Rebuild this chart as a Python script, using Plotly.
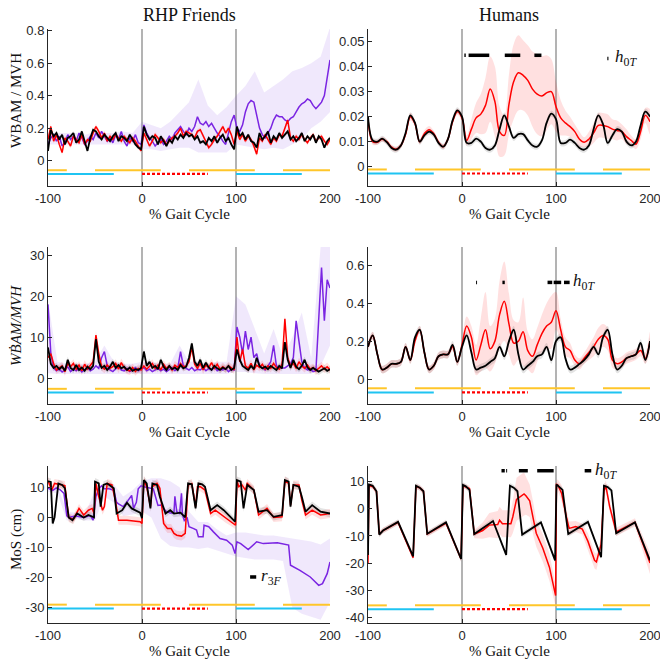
import plotly.graph_objects as go

# ======================= DATA =======================
x_left = list(range(-100, 201, 3))     # RHP Friends sampling (% gait cycle)
x_right = list(range(-100, 201, 5))    # Humans sampling (% gait cycle)
x_band10 = list(range(-100, 201, 10))  # coarse grid for purple envelopes

# ---- Row 1: WBAM / MVH, RHP Friends ----
wbam_rhp_black = [
    0.06, 0.19, 0.15, 0.17, 0.13, 0.16, 0.10, 0.14, 0.15, 0.17,
    0.11, 0.13, 0.18, 0.12, 0.06, 0.14, 0.19, 0.18, 0.15, 0.13,
    0.16, 0.14, 0.12, 0.15, 0.17, 0.12, 0.15, 0.14, 0.12, 0.16,
    0.13, 0.10, 0.08, 0.07, 0.21, 0.16, 0.13, 0.15, 0.14, 0.10,
    0.15, 0.12, 0.09, 0.13, 0.11, 0.15, 0.13, 0.16, 0.14, 0.17,
    0.15, 0.16, 0.13, 0.15, 0.11, 0.12, 0.10, 0.14, 0.12, 0.15,
    0.11, 0.14, 0.16, 0.12, 0.14, 0.10, 0.07, 0.21, 0.15, 0.17,
    0.13, 0.16, 0.12, 0.11, 0.08, 0.17, 0.13, 0.15, 0.18, 0.11,
    0.15, 0.13, 0.17, 0.14, 0.16, 0.18, 0.13, 0.15, 0.12, 0.14,
    0.17, 0.12, 0.15, 0.13, 0.16, 0.11, 0.15, 0.13, 0.08, 0.12,
    0.14]
wbam_rhp_red = [
    0.13, 0.21, 0.12, 0.16, 0.10, 0.05, 0.14, 0.12, 0.09, 0.15,
    0.13, 0.11, 0.16, 0.10, 0.13, 0.12, 0.17, 0.21, 0.18, 0.14,
    0.17, 0.12, 0.15, 0.13, 0.16, 0.14, 0.12, 0.15, 0.13, 0.11,
    0.14, 0.12, 0.09, 0.06, 0.17, 0.13, 0.09, 0.12, 0.16, 0.14,
    0.11, 0.13, 0.10, 0.12, 0.14, 0.15, 0.17, 0.20, 0.15, 0.18,
    0.17, 0.16, 0.14, 0.18, 0.19, 0.15, 0.12, 0.08, 0.10, 0.13,
    0.15, 0.18, 0.21, 0.17, 0.20, 0.16, 0.10, 0.18, 0.13, 0.16,
    0.12, 0.15, 0.13, 0.09, 0.04, 0.14, 0.12, 0.16, 0.13, 0.10,
    0.14, 0.12, 0.16, 0.15, 0.20, 0.25, 0.14, 0.12, 0.15, 0.13,
    0.16, 0.13, 0.11, 0.14, 0.16, 0.12, 0.14, 0.15, 0.12, 0.10,
    0.13]
wbam_rhp_purple = [
    0.10, 0.14, 0.16, 0.12, 0.15, 0.09, 0.11, 0.16, 0.13, 0.15,
    0.12, 0.17, 0.14, 0.10, 0.12, 0.15, 0.13, 0.17, 0.14, 0.18,
    0.15, 0.12, 0.14, 0.11, 0.16, 0.13, 0.18, 0.12, 0.09, 0.14,
    0.12, 0.16, 0.11, 0.10, 0.22, 0.17, 0.14, 0.12, 0.09, 0.11,
    0.13, 0.10, 0.12, 0.15, 0.13, 0.17, 0.19, 0.21, 0.18, 0.16,
    0.20, 0.18, 0.21, 0.27, 0.23, 0.22, 0.24, 0.21, 0.23, 0.20,
    0.17, 0.15, 0.12, 0.10, 0.18, 0.24, 0.28, 0.20, 0.18, 0.22,
    0.30, 0.35, 0.37, 0.36, 0.28, 0.20, 0.16, 0.14, 0.17, 0.20,
    0.25, 0.28, 0.27, 0.27, 0.25, 0.24, 0.26, 0.27, 0.30, 0.33,
    0.35, 0.36, 0.38, 0.37, 0.34, 0.32, 0.34, 0.36, 0.40, 0.50,
    0.62]
wbam_rhp_purple_hi = [0.16, 0.17, 0.17, 0.17, 0.16, 0.18, 0.17, 0.17, 0.18, 0.17,
                      0.24, 0.22, 0.20, 0.24, 0.30, 0.36, 0.50, 0.34, 0.28, 0.33,
                      0.40, 0.46, 0.55, 0.42, 0.46, 0.50, 0.55, 0.57, 0.60, 0.64, 0.82]
wbam_rhp_purple_lo = [0.10, 0.10, 0.10, 0.10, 0.10, 0.10, 0.10, 0.10, 0.10, 0.10,
                      0.07, 0.07, 0.06, 0.07, 0.08, 0.08, 0.05, 0.05, 0.05, 0.05,
                      0.10, 0.09, 0.08, 0.07, 0.08, 0.07, 0.10, 0.13, 0.20, 0.24, 0.30]
wbam_rhp_black_sd = 0.012
wbam_rhp_red_sd = 0.015

# ---- Row 1: WBAM / MVH, Humans ----
wbam_hum_black = [
    0.0200, 0.0105, 0.0100, 0.0112, 0.0098, 0.0075, 0.0068, 0.0085, 0.0135, 0.0205,
    0.0175, 0.0100, 0.0125, 0.0140, 0.0128, 0.0095, 0.0080, 0.0110, 0.0185, 0.0225,
    0.0200, 0.0095, 0.0095, 0.0112, 0.0100, 0.0075, 0.0068, 0.0085, 0.0150, 0.0205,
    0.0160, 0.0115, 0.0130, 0.0130, 0.0105, 0.0085, 0.0080, 0.0105, 0.0175, 0.0212,
    0.0190, 0.0095, 0.0095, 0.0108, 0.0095, 0.0075, 0.0068, 0.0085, 0.0150, 0.0205,
    0.0170, 0.0095, 0.0125, 0.0150, 0.0140, 0.0100, 0.0085, 0.0100, 0.0165, 0.0220,
    0.0200]
wbam_hum_red = [
    0.0190, 0.0100, 0.0098, 0.0110, 0.0100, 0.0078, 0.0070, 0.0085, 0.0130, 0.0200,
    0.0172, 0.0100, 0.0132, 0.0148, 0.0132, 0.0098, 0.0080, 0.0110, 0.0180, 0.0220,
    0.0195, 0.0105, 0.0150, 0.0195, 0.0210, 0.0245, 0.0310, 0.0260, 0.0140, 0.0125,
    0.0250, 0.0340, 0.0375, 0.0365, 0.0345, 0.0310, 0.0290, 0.0282, 0.0295, 0.0300,
    0.0240, 0.0195, 0.0175, 0.0160, 0.0140, 0.0110, 0.0098, 0.0110, 0.0135, 0.0165,
    0.0165, 0.0160, 0.0150, 0.0145, 0.0140, 0.0120, 0.0105, 0.0090, 0.0140, 0.0205,
    0.0180]
wbam_hum_red_sd = [
    0.0020, 0.0012, 0.0010, 0.0010, 0.0010, 0.0010, 0.0010, 0.0010, 0.0012, 0.0015,
    0.0012, 0.0010, 0.0015, 0.0015, 0.0012, 0.0010, 0.0010, 0.0010, 0.0012, 0.0012,
    0.0015, 0.0020, 0.0040, 0.0060, 0.0080, 0.0110, 0.0130, 0.0140, 0.0100, 0.0080,
    0.0120, 0.0150, 0.0150, 0.0140, 0.0140, 0.0150, 0.0160, 0.0160, 0.0150, 0.0130,
    0.0100, 0.0070, 0.0050, 0.0040, 0.0030, 0.0030, 0.0020, 0.0030, 0.0040, 0.0050,
    0.0050, 0.0050, 0.0040, 0.0040, 0.0030, 0.0030, 0.0020, 0.0020, 0.0030, 0.0030,
    0.0050]
wbam_hum_black_sd = 0.0012
wbam_hum_sig = [(2.5, 4.0), (7.0, 29.0), (45.5, 62.0), (77.0, 84.5)]

# ---- Row 2: WBAM-dot / MVH, RHP Friends ----
wbamdot_rhp_black = [
    7.5, 3.5, 2.5, 3.0, 2.2, 2.8, 1.8, 4.5, 2.5, 2.0,
    3.2, 2.0, 2.6, 1.8, 2.8, 2.2, 3.0, 9.5, 4.0, 2.5,
    3.0, 2.0, 2.8, 4.0, 2.5, 3.2, 2.4, 2.8, 2.0, 2.6,
    1.8, 2.2, 2.0, 2.5, 6.5, 3.0, 4.0, 2.5, 3.0, 2.2,
    4.5, 2.8, 2.0, 3.0, 2.2, 2.6, 2.0, 3.2, 2.4, 2.8,
    5.0, 8.5, 4.0, 3.0, 4.5, 2.5, 3.8, 2.6, 2.0, 3.0,
    2.4, 2.0, 2.6, 2.2, 3.0, 2.0, 2.5, 7.0, 4.5, 3.0,
    2.5, 2.0, 3.0, 2.2, 5.0, 3.0, 2.4, 2.8, 2.2, 3.0,
    2.5, 2.0, 3.0, 2.4, 8.8, 4.5, 2.5, 4.5, 2.8, 2.2,
    3.0, 4.5, 2.6, 2.0, 2.5, 2.0, 1.6, 2.0, 2.4, 1.8,
    2.2]
wbamdot_rhp_red = [
    5.0, 6.0, 3.5, 2.0, 2.5, 3.0, 1.6, 3.5, 2.8, 3.6,
    2.2, 3.2, 1.8, 3.4, 2.2, 3.0, 4.0, 10.5, 6.0, 2.8,
    2.2, 3.2, 2.4, 2.8, 3.6, 2.2, 3.8, 2.6, 2.0, 1.8,
    2.6, 1.6, 2.4, 2.0, 3.0, 2.2, 2.8, 3.6, 2.4, 3.2,
    2.0, 3.4, 2.4, 3.0, 2.0, 3.2, 2.6, 3.6, 2.8, 3.0,
    4.0, 7.5, 3.4, 2.4, 3.6, 2.0, 3.2, 2.6, 3.8, 2.4,
    3.4, 2.2, 2.8, 2.2, 3.0, 2.4, 2.0, 10.0, 4.0, 7.0,
    3.0, 2.4, 3.6, 2.0, 3.2, 2.6, 3.4, 2.2, 3.0, 2.4,
    3.6, 2.6, 2.2, 3.4, 14.5, 5.0, 3.0, 3.6, 2.4, 4.0,
    3.0, 2.4, 3.2, 2.2, 2.6, 1.8, 2.4, 3.0, 2.2, 2.8,
    2.0]
wbamdot_rhp_purple = [
    18.0, 6.0, 2.5, 1.8, 2.2, 1.5, 2.0, 2.8, 1.6, 2.2,
    1.8, 2.4, 1.5, 2.0, 2.6, 1.8, 2.2, 3.0, 2.4, 5.0,
    6.5, 3.0, 2.0, 1.6, 2.2, 3.0, 2.0, 1.8, 2.4, 1.6,
    2.0, 2.6, 1.8, 2.2, 2.6, 1.8, 2.2, 1.6, 2.0, 2.4,
    1.8, 2.2, 1.6, 2.0, 2.6, 1.8, 2.4, 6.5, 3.0, 2.4,
    2.0, 2.6, 1.8, 2.2, 2.0, 2.6, 1.8, 2.4, 2.0, 2.8,
    1.8, 2.2, 2.0, 2.4, 1.6, 2.2, 2.0, 12.5, 10.0, 6.0,
    11.5, 7.0, 10.0, 5.0, 6.0, 3.0, 2.5, 2.0, 3.0, 4.0,
    8.0, 3.0, 2.5, 2.5, 2.5, 3.0, 3.5, 5.0, 14.0, 9.0,
    4.0, 2.5, 2.0, 2.2, 1.6, 1.8, 15.0, 27.0, 14.0, 24.0,
    22.0]
wbamdot_rhp_purple_hi = [19, 4, 3.5, 3.5, 3.5, 4, 8, 4, 3.5, 3.5,
                         4, 4, 3.5, 3.5, 8, 4, 4, 3.5, 4, 4,
                         20, 18, 12, 6, 12, 5, 10, 16, 5, 32, 32]
wbamdot_rhp_purple_lo = [1.2, 1.0, 1.0, 1.0, 1.0, 1.0, 1.0, 1.0, 1.0, 1.0,
                         1.0, 1.0, 1.0, 1.0, 1.0, 1.0, 1.0, 1.0, 1.0, 1.0,
                         1.5, 1.5, 1.2, 1.0, 1.0, 1.0, 1.0, 1.0, 1.0, 3.0, 8.0]
wbamdot_rhp_black_sd = 0.8
wbamdot_rhp_red_sd = 1.0

# ---- Row 2: WBAM-dot / MVH, Humans ----
wbamdot_hum_black = [
    0.17, 0.23, 0.13, 0.05, 0.06, 0.08, 0.08, 0.09, 0.17, 0.10,
    0.22, 0.26, 0.14, 0.05, 0.07, 0.12, 0.13, 0.13, 0.18, 0.09,
    0.17, 0.23, 0.14, 0.05, 0.06, 0.07, 0.09, 0.11, 0.17, 0.12,
    0.20, 0.26, 0.13, 0.05, 0.07, 0.09, 0.12, 0.13, 0.17, 0.10,
    0.20, 0.22, 0.11, 0.05, 0.06, 0.08, 0.10, 0.13, 0.17, 0.13,
    0.22, 0.26, 0.13, 0.05, 0.07, 0.11, 0.12, 0.13, 0.19, 0.10,
    0.20]
wbamdot_hum_red = [
    0.17, 0.23, 0.13, 0.05, 0.06, 0.08, 0.08, 0.09, 0.17, 0.10,
    0.20, 0.26, 0.14, 0.05, 0.07, 0.12, 0.13, 0.13, 0.17, 0.09,
    0.18, 0.28, 0.22, 0.10, 0.18, 0.26, 0.16, 0.20, 0.34, 0.41,
    0.29, 0.19, 0.20, 0.25, 0.15, 0.12, 0.18, 0.24, 0.28, 0.30,
    0.36, 0.26, 0.17, 0.15, 0.10, 0.08, 0.11, 0.14, 0.17, 0.21,
    0.23, 0.21, 0.10, 0.08, 0.09, 0.11, 0.12, 0.13, 0.15, 0.11,
    0.20]
wbamdot_hum_red_sd = [
    0.03, 0.02, 0.02, 0.02, 0.02, 0.02, 0.02, 0.02, 0.02, 0.02,
    0.02, 0.02, 0.02, 0.02, 0.02, 0.02, 0.02, 0.02, 0.02, 0.02,
    0.03, 0.05, 0.06, 0.08, 0.14, 0.20, 0.12, 0.12, 0.18, 0.21,
    0.16, 0.12, 0.10, 0.18, 0.10, 0.09, 0.09, 0.10, 0.12, 0.14,
    0.10, 0.06, 0.05, 0.04, 0.03, 0.03, 0.03, 0.04, 0.05, 0.06,
    0.06, 0.06, 0.04, 0.03, 0.03, 0.03, 0.03, 0.03, 0.03, 0.03,
    0.05]
wbamdot_hum_black_sd = 0.02
wbamdot_hum_sig = [(15.0, 16.0), (43.0, 45.5), (91.0, 96.0), (97.5, 105.5), (108.5, 114.5)]

# ---- Row 3: MoS (cm), RHP Friends ----
mos_rhp_black_x = [-100, -97, -95, -93, -89, -85, -82, -78, -74, -69,
                   -62, -57, -51, -50, -46, -44, -41, -37, -30, -27,
                   -21, -16, -11, -2, 0, 2, 5, 9, 11, 16,
                   19, 25, 30, 34, 41, 46, 49, 53, 57, 60,
                   64, 67, 73, 80, 87, 94, 99, 101, 105, 108,
                   112, 119, 124, 133, 140, 149, 152, 156, 158, 161,
                   167, 170, 174, 181, 190, 200]
mos_rhp_black = [12, 11.8, -2, 0, 11.3, 10.8, 9.7, 0, -0.9, 1.3,
                 0, 0.8, 0, 11.9, 11.3, 3.6, 10.8, 11.3, 9.7, 1.3,
                 2.4, 4.9, 3, 1.6, -0.3, 12.4, 11.3, 3, 11.3, 10.8,
                 6.9, 1.3, 2.4, 1.3, 1.6, 0, 11.3, 11.0, 3, 11.3,
                 11.0, 10.2, 2.4, 4.1, 2.4, 0.2, -1.4, 12.4, 11.9, 3,
                 10.8, 9.1, 1.9, 2.4, 0.2, 0.8, 12.4, 11.9, 3.6, 10.8,
                 10.2, 6.9, 1.9, 4.1, 1.9, 1.3]
mos_rhp_red_x = [-100, -96, -93, -89, -82, -78, -73, -67, -62, -57,
                 -53, -51, -49, -46, -42, -40, -37, -32, -28, -25,
                 -16, -2, 0, 2, 5, 9, 11, 16, 19, 23,
                 27, 31, 34, 37, 42, 46, 49, 53, 57, 59,
                 62, 67, 73, 78, 83, 89, 98, 99.5, 101, 103,
                 106, 110, 112, 119, 124, 133, 140, 149, 152, 156,
                 158, 161, 167, 170, 174, 181, 190, 200]
mos_rhp_red = [12.2, 9.1, 11.3, 11.1, 10.6, 0, -0.7, 3, 0.8, 2.4,
               3, 1.3, 11.3, 6.9, 2.4, 3.6, 11.3, 10.8, 5.2, -0.9,
               -0.9, -1.4, -2, 12.4, 10.2, 3.6, 10.2, 11.3, 9.7, -2,
               -3.7, -3.7, -5.3, -5.9, -6.2, -5.3, 10.8, 11.3, 3.6, 10.2,
               10.2, 9.1, 1.3, 2.4, 1.3, -0.3, -2, -2.6, 12.2, 10.2,
               11, 9.1, 11.3, 9.1, 0.8, 3, 0, 0.2, 12.2, 11.3,
               4.1, 10.8, 10.8, 5.8, 0.8, 2.4, 0.8, 1.3]
mos_rhp_purple_x = [-100, -95, -91, -87, -83, -80, -78, -70, -62, -55,
                    -52, -49, -46, -43, -40, -35, -30, -27, -25, -20,
                    -15, -11, -9, -6, -4, -1, 2, 8, 12, 14,
                    17, 20, 25, 30, 34, 35, 37, 40, 42, 43,
                    45, 48, 50, 55, 58, 60, 65, 66, 71, 76,
                    83, 90, 96, 99, 101, 105, 113, 122, 129, 144,
                    156, 158, 168, 179, 188, 192, 197, 200]
mos_rhp_purple = [9.7, 9.0, 9.8, 9.2, 8.0, 0.5, 0.1, 0.5, 0.0, 0.6,
                  -0.9, 7.0, 9.5, 10.5, 9.5, 9.5, 9.0, 5.0, 4.5, 3.6,
                  5.6, 7.3, 3.0, 5.0, 9.5, 10.5, 10.2, 9.8, 9.5, 7.3,
                  4.0, 4.1, 2.2, 1.5, 1.5, 7.0, 1.9, 1.3, 8.0, 1.0,
                  -1.0, 0.0, -3.1, -3.7, -4.2, -6.4, -6.4, -2.6, -3.1, -4.8,
                  -7.0, -7.6, -9.2, -12.0, -8.1, -8.7, -10.7, -8.1, -8.7, -8.4,
                  -9.2, -15.9, -17.6, -19.8, -22.6, -22.0, -18.7, -14.8]
mos_rhp_purple_hi = [10.5, 10.5, 2, 1.5, 1.5, 9, 11.5, 11, 7, 9,
                     12, 13, 13, 12, 10, 2, -1.5, -1.5, -4, -6,
                     -5, -5, -5.5, -6, -6, -6.5, -7, -7.5, -8, -9, -7]
mos_rhp_purple_lo = [8.5, 8, -1, -0.5, -1, -1, 7, 5, 0.5, 1,
                     2, 0, -7, -9.5, -10, -10, -10.5, -10, -11, -12,
                     -13, -13.5, -14, -14, -14, -14.5, -30, -32, -33, -34, -28]
mos_rhp_black_sd = 1.2
mos_rhp_red_sd = 1.5

# ---- Row 3: MoS (cm), Humans ----
mos_hum_black_x = [-100, -99, -95, -91, -88, -84, -68, -52, -49, -45,
                   -41, -37, -17, -1, 1, 4, 8, 13, 33, 47,
                   51, 55, 59, 64, 84, 99, 100.5, 104, 107, 113,
                   134, 148, 151, 155, 159, 164, 184, 200]
mos_hum_black = [-17, 9, 8.5, 6.5, -9.5, -8, -4.8, -17.5, 8.5, 7.8,
                 6.5, -9.2, -5, -18.5, 8.8, 8.3, 7, -9.3, -4.5, -17,
                 8.5, 7.8, 6.5, -9.5, -5, -19, 9, 8, 7, -9.3,
                 -4.8, -17.8, 8.5, 8, 6.8, -9, -5, -19]
mos_hum_red_x = [-100, -99, -95, -91, -88, -84, -68, -52, -49, -45,
                 -41, -37, -17, -1, 1, 4, 8, 13, 22, 29,
                 38, 40, 43, 52, 54, 58, 62, 66, 68, 72,
                 76, 79, 86, 93, 99.6, 100.5, 102, 106, 111, 114,
                 121, 128, 134, 141, 143, 148, 151, 153, 157, 161,
                 164, 184, 200]
mos_hum_red = [-20, 8.5, 8.2, 6.5, -9.3, -8, -5, -18, 8.2, 7.8,
               6.5, -9.3, -5.3, -18.5, 8.5, 8, 7.5, -9.3, -8, -6,
               -5.8, -4.2, -5.5, -5.5, -3, 3.5, 4.5, 5.5, 4.8, 3,
               -4, -9, -14.5, -21.5, -32, 9, 8.8, 5.7, -2.9, -7.2,
               -6.5, -7.5, -12, -19, -19.6, -13, 6.5, 8.5, 1, -4.2,
               -8.5, -5, -20]
mos_hum_red_sd = [2, 1, 1, 1, 1, 1, 1, 1, 1, 1,
                  1, 1, 1, 1, 1, 1, 1, 1.5, 3, 4.5,
                  5, 5, 5, 5, 6, 8, 8, 8, 7, 6,
                  6, 5, 5, 5, 4, 1.5, 2, 3, 3, 2.5,
                  2, 2, 3, 3, 3, 2, 2, 2, 2, 1.5,
                  1.5, 1.5, 4]
mos_hum_black_sd = 1.0
mos_hum_sig = [(42.0, 45.5), (47.0, 48.0), (60.5, 70.0), (80.0, 97.5)]

# ---- gait-phase indicator bars (shared by every panel) ----
phase_yellow = [(-100, -80), (-50, 20), (50, 120), (150, 200)]
phase_cyan = [(-100, -30), (100, 170)]
phase_red = [(0, 70)]

# ======================= STYLE / LAYOUT =======================
W, H = 660, 663
COL_X = {0: (48, 330), 1: (368, 650)}
ROW_Y = {0: (29, 186), 1: (247, 404), 2: (466, 623)}

BLACK = '#000000'
RED = '#ff0000'
PURPLE = '#7a24e2'
YELLOW = '#ffc62a'
CYAN = '#1fc4f2'
BAND_BLACK = 'rgba(0,0,0,0.11)'
BAND_RED = 'rgba(255,0,0,0.12)'
BAND_PURPLE = 'rgba(140,80,235,0.13)'
SERIF = 'Liberation Serif, Times New Roman, serif'
SANS = 'Liberation Sans, Arial, Helvetica, sans-serif'
AXC = '#262626'

panel_cfg = {
    1: dict(row=0, col=0, yr=[-0.156, 0.81], ticks=[0, 0.2, 0.4, 0.6, 0.8],
            tt=['0', '0.2', '0.4', '0.6', '0.8'], ph=(-0.059, -0.082)),
    2: dict(row=0, col=1, yr=[-0.0077, 0.055], ticks=[0, 0.01, 0.02, 0.03, 0.04, 0.05],
            tt=['0', '0.01', '0.02', '0.03', '0.04', '0.05'], ph=(-0.0011, -0.0027)),
    3: dict(row=1, col=0, yr=[-6.3, 32], ticks=[0, 10, 20, 30],
            tt=['0', '10', '20', '30'], ph=(-2.6, -3.5)),
    4: dict(row=1, col=1, yr=[-0.132, 0.697], ticks=[0, 0.2, 0.4, 0.6],
            tt=['0', '0.2', '0.4', '0.6'], ph=(-0.049, -0.071)),
    5: dict(row=2, col=0, yr=[-35.1, 17.1], ticks=[-30, -20, -10, 0, 10],
            tt=['-30', '-20', '-10', '0', '10'], ph=(-29.0, -30.3)),
    6: dict(row=2, col=1, yr=[-42.1, 15.8], ticks=[-40, -30, -20, -10, 0, 10],
            tt=['-40', '-30', '-20', '-10', '0', '10'], ph=(-35.6, -37.0)),
}

fig = go.Figure()


def names(i):
    return ('x' if i == 1 else f'x{i}'), ('y' if i == 1 else f'y{i}')


def add(i, tr):
    xa, ya = names(i)
    tr.update(xaxis=xa, yaxis=ya, showlegend=False, hoverinfo='skip')
    fig.add_trace(tr)


def band(i, xs, lo, hi, color, shape='linear'):
    xs = list(xs)
    add(i, go.Scatter(x=xs + xs[::-1], y=list(hi) + list(lo)[::-1], mode='lines',
                      fill='toself', fillcolor=color, line=dict(width=0, shape=shape)))


def sd_band(i, xs, mean, sd, color, shape='linear'):
    if isinstance(sd, (int, float)):
        sd = [sd] * len(mean)
    hi = [m + s for m, s in zip(mean, sd)]
    lo = [m - s for m, s in zip(mean, sd)]
    band(i, xs, lo, hi, color, shape)


def line(i, xs, ys, color, width, shape='linear', dash='solid'):
    add(i, go.Scatter(x=xs, y=ys, mode='lines',
                      line=dict(color=color, width=width, shape=shape, dash=dash)))


def segs(i, pairs, y, color, width, dash='solid'):
    xs, ys = [], []
    for a, b in pairs:
        xs += [a, b, None]
        ys += [y, y, None]
    line(i, xs, ys, color, width, dash=dash)


# ---- Row 1 ----
band(1, x_band10, wbam_rhp_purple_lo, wbam_rhp_purple_hi, BAND_PURPLE)
sd_band(1, x_left, wbam_rhp_red, wbam_rhp_red_sd, BAND_RED)
sd_band(1, x_left, wbam_rhp_black, wbam_rhp_black_sd, BAND_BLACK)
line(1, x_left, wbam_rhp_purple, PURPLE, 1.5)
line(1, x_left, wbam_rhp_red, RED, 1.5)
line(1, x_left, wbam_rhp_black, BLACK, 1.8)

sd_band(2, x_right, wbam_hum_red, wbam_hum_red_sd, BAND_RED, 'spline')
sd_band(2, x_right, wbam_hum_black, wbam_hum_black_sd, BAND_BLACK, 'spline')
line(2, x_right, wbam_hum_red, RED, 1.5, 'spline')
line(2, x_right, wbam_hum_black, BLACK, 1.8, 'spline')
segs(2, wbam_hum_sig, 0.0445, BLACK, 3.5)
segs(2, [(154.6, 155.8)], 0.0432, BLACK, 3.5)

# ---- Row 2 ----
band(3, x_band10, wbamdot_rhp_purple_lo, wbamdot_rhp_purple_hi, BAND_PURPLE)
sd_band(3, x_left, wbamdot_rhp_red, wbamdot_rhp_red_sd, BAND_RED)
sd_band(3, x_left, wbamdot_rhp_black, wbamdot_rhp_black_sd, BAND_BLACK)
line(3, x_left, wbamdot_rhp_purple, PURPLE, 1.5)
line(3, x_left, wbamdot_rhp_red, RED, 1.5)
line(3, x_left, wbamdot_rhp_black, BLACK, 1.8)

sd_band(4, x_right, wbamdot_hum_red, wbamdot_hum_red_sd, BAND_RED, 'spline')
sd_band(4, x_right, wbamdot_hum_black, wbamdot_hum_black_sd, BAND_BLACK, 'spline')
line(4, x_right, wbamdot_hum_red, RED, 1.5, 'spline')
line(4, x_right, wbamdot_hum_black, BLACK, 1.8, 'spline')
segs(4, wbamdot_hum_sig, 0.51, BLACK, 3.5)

# ---- Row 3 ----
band(5, x_band10, mos_rhp_purple_lo, mos_rhp_purple_hi, BAND_PURPLE)
sd_band(5, mos_rhp_red_x, mos_rhp_red, mos_rhp_red_sd, BAND_RED)
sd_band(5, mos_rhp_black_x, mos_rhp_black, mos_rhp_black_sd, BAND_BLACK)
line(5, mos_rhp_purple_x, mos_rhp_purple, PURPLE, 1.5)
line(5, mos_rhp_red_x, mos_rhp_red, RED, 1.5)
line(5, mos_rhp_black_x, mos_rhp_black, BLACK, 1.8)
segs(5, [(115.0, 121.5)], -19.8, BLACK, 3.5)

sd_band(6, mos_hum_red_x, mos_hum_red, mos_hum_red_sd, BAND_RED)
sd_band(6, mos_hum_black_x, mos_hum_black, mos_hum_black_sd, BAND_BLACK)
line(6, mos_hum_red_x, mos_hum_red, RED, 1.5)
line(6, mos_hum_black_x, mos_hum_black, BLACK, 1.8)
segs(6, mos_hum_sig, 14.06, BLACK, 3.5)
segs(6, [(130.5, 137.5)], 14.06, BLACK, 3.5)

# ---- phase bars, vertical markers, axes ----
shapes = []
for i, c in panel_cfg.items():
    yy, yc = c['ph']
    segs(i, phase_yellow, yy, YELLOW, 2)
    segs(i, phase_cyan, yc, CYAN, 2)
    segs(i, phase_red, yc, RED, 2.2, dash='3px,2px')
    xa, ya = names(i)
    for xv in (0, 100):
        shapes.append(dict(type='line', xref=xa, yref=f'{ya} domain', x0=xv, x1=xv,
                           y0=0, y1=1, line=dict(color='rgba(120,120,120,0.75)', width=1.5),
                           layer='below'))

layout = dict(width=W, height=H, autosize=False, margin=dict(l=0, r=0, t=0, b=0, pad=0),
              paper_bgcolor='white', plot_bgcolor='white', shapes=shapes)

for i, c in panel_cfg.items():
    x0, x1 = COL_X[c['col']]
    ytop, ybot = ROW_Y[c['row']]
    xa, ya = names(i)
    common = dict(showline=True, linecolor=AXC, linewidth=1, ticks='inside', ticklen=4,
                  tickwidth=1, tickcolor=AXC, showgrid=False, zeroline=False, automargin=False,
                  ticklabeloverflow='allow',
                  tickfont=dict(family=SANS, size=13, color=AXC))
    layout['xaxis' if i == 1 else f'xaxis{i}'] = dict(
        common, domain=[x0 / W, x1 / W], anchor=ya, range=[-100, 200],
        tickvals=[-100, 0, 100, 200], ticktext=['-100', '0', '100', '200'])
    layout['yaxis' if i == 1 else f'yaxis{i}'] = dict(
        common, domain=[1 - ybot / H, 1 - ytop / H], anchor=xa, range=c['yr'],
        tickvals=c['ticks'], ticktext=c['tt'])

fig.update_layout(**layout)

# ---- text ----
ann = []
ann.append(dict(text='RHP Friends', x=(48 + 330) / 2 / W, y=1 - 15 / H))
ann.append(dict(text='Humans', x=(368 + 650) / 2 / W, y=1 - 15 / H))
for a in ann:
    a.update(xref='paper', yref='paper', showarrow=False, xanchor='center', yanchor='middle',
             font=dict(family=SERIF, size=18, color='#111'))
for r, (ytop, ybot) in ROW_Y.items():
    for col, (x0, x1) in COL_X.items():
        ann.append(dict(text='% Gait Cycle', x=(x0 + x1) / 2 / W, y=1 - (ybot + 28) / H,
                        xref='paper', yref='paper', showarrow=False, xanchor='center',
                        yanchor='middle', font=dict(family=SERIF, size=15, color='#111')))
ytitles = ['WBAM / MVH', '<i>WḂAM/MVH</i>', 'MoS (cm)']
ycent = [101, 326, 540]
for t, yc in zip(ytitles, ycent):
    ann.append(dict(text=t, x=16 / W, y=1 - yc / H, xref='paper', yref='paper',
                    showarrow=False, textangle=-90, xanchor='center', yanchor='middle',
                    font=dict(family=SERIF, size=15, color='#111')))
lab_h = '<i>h</i><sub>0<i>T</i></sub>'
lab_r = '<i>r</i><sub>3<i>F</i></sub>'
for i, txt, xv, yv in [(2, lab_h, 161, 0.0433), (4, lab_h, 116, 0.51),
                       (6, lab_h, 139.5, 14.06), (5, lab_r, 124, -19.8)]:
    xa, ya = names(i)
    ann.append(dict(text=txt, x=xv, y=yv, xref=xa, yref=ya, showarrow=False,
                    xanchor='left', yanchor='middle',
                    font=dict(family=SERIF, size=17, color='#111')))
fig.update_layout(annotations=ann)

fig.write_html('out.html', config={'displayModeBar': False},
               post_script="document.body.style.margin='0';document.body.style.overflow='hidden';")
